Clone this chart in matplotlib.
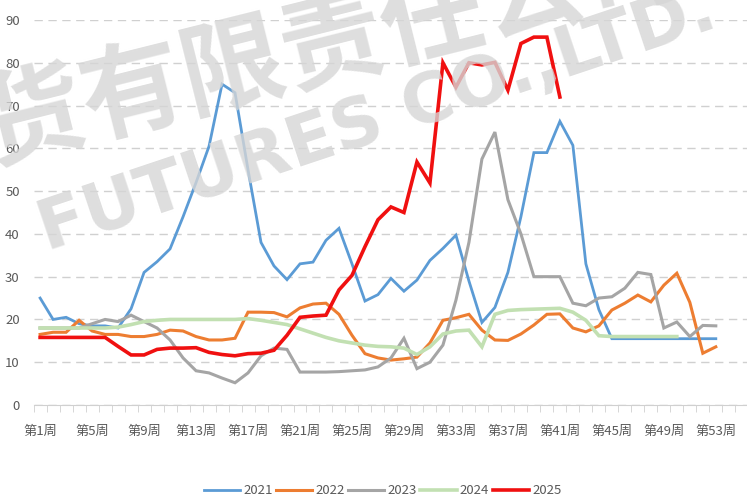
import numpy as np
import matplotlib
matplotlib.use("Agg")
import matplotlib.pyplot as plt
from matplotlib.ticker import FixedLocator

plt.rcParams['font.family'] = ['Noto Sans CJK SC', 'DejaVu Sans']

# weekly values
weeks = np.arange(1, 54)
series_2021 = [25, 20, 20.5, 19, 18.5, 18.5, 18, 22.5, 31, 33.5, 36.5, 44, 52, 60.5,
               75, 73, 55, 38, 32.5, 29.3, 33, 33.4, 38.5, 41.3, 33, 24.3, 25.8, 29.6,
               26.6, 29.2, 33.8, 36.6, 39.7, 29, 19.3, 22.8, 31, 44, 59, 59, 66.3, 60.7,
               33, 22.3, 15.5, 15.5, 15.5, 15.5, 15.5, 15.5, 15.5, 15.5, 15.5]
series_2022 = [16.5, 17, 17, 19.8, 17.3, 16.5, 16.5, 16, 16, 16.5, 17.5, 17.3, 16, 15.2,
               15.2, 15.6, 21.7, 21.7, 21.6, 20.6, 22.7, 23.6, 23.8, 21.2, 16.3, 12, 11,
               10.5, 10.8, 11.2, 14.5, 19.8, 20.4, 21.2, 17.5, 15.2, 15.1, 16.6, 18.7,
               21.2, 21.3, 18, 17.1, 18.5, 22.2, 23.8, 25.7, 24.1, 28, 30.8, 24, 12.1, 13.6]
series_2023 = [18, 18, 18, 18, 19, 20, 19.5, 21, 19.5, 18, 15.2, 11, 8, 7.5, 6.3, 5.2,
               7.5, 11.5, 13.3, 13, 7.7, 7.7, 7.7, 7.8, 8, 8.2, 8.9, 11, 15.6, 8.5, 10,
               14, 24.5, 38, 57.5, 63.8, 48, 40, 30, 30, 30, 23.8, 23.2, 25, 25.3, 27.3,
               31, 30.5, 18, 19.4, 16, 18.6, 18.5]
series_2024 = [18, 18, 18, 18, 18, 18, 18.2, 18.8, 19.5, 19.8, 20, 20, 20, 20, 20, 20,
               20.2, 19.8, 19.3, 18.8, 17.8, 16.8, 15.8, 15, 14.5, 14, 13.7, 13.6, 13.3,
               11.8, 13.6, 16.6, 17.3, 17.5, 13.6, 21.2, 22.1, 22.3, 22.4, 22.5, 22.6,
               21.7, 19.8, 16.2, 16, 16, 16, 16, 16, 16]
series_2025 = [15.8, 15.8, 15.8, 15.8, 15.8, 15.8, 13.7, 11.7, 11.7, 13, 13.3, 13.3, 13.4,
               12.3, 11.8, 11.5, 12, 12.1, 12.8, 16.3, 20.5, 20.8, 21, 26.9, 30.3, 37,
               43.3, 46.3, 45, 56.8, 51.9, 80, 74.3, 80, 79.5, 80.1, 73.6, 84.5, 86, 86, 72]

years = ['2021', '2022', '2023', '2024', '2025']
values = [series_2021, series_2022, series_2023, series_2024, series_2025]
colors = ['#5B9BD5', '#ED7D31', '#A5A5A5', '#C2E0B2', '#F01010']
widths = [2.0, 2.2, 2.2, 2.6, 2.6]

fig = plt.figure(figsize=(7.47, 5.0), dpi=100)
ax = fig.add_axes([0.045, 0.19, 0.955, 0.77])

# watermark
fig.text(0.38, 0.885, '期货有限责任公司', fontsize=74, fontweight='bold', color='#d6d6d6',
         rotation=14, ha='center', va='center', alpha=0.8, zorder=0)
fig.text(0.505, 0.76, 'FUTURES CO.,LTD.', fontsize=50, fontweight='bold', color='#d6d6d6',
         rotation=18.5, ha='center', va='center', alpha=0.8, zorder=0,
         family='DejaVu Sans')
ax.patch.set_alpha(0)

for yr, vals, c, lw in zip(years, values, colors, widths):
    ax.plot(weeks[:len(vals)], vals, color=c, linewidth=lw, label=yr,
            solid_joinstyle='miter')

ax.set_ylim(0, 90)
ax.set_xlim(0.5, 55.4)
ax.set_yticks(np.arange(0, 91, 10))
ax.yaxis.grid(True, linestyle=(0, (6, 4)), color='#d0d0d0', linewidth=1)
ax.set_axisbelow(True)

label_weeks = weeks[::4]
ax.set_xticks(label_weeks)
ax.set_xticklabels([f'第{w}周' for w in label_weeks])
ax.xaxis.set_minor_locator(FixedLocator(np.arange(0.5, 56, 1)))
ax.tick_params(axis='x', which='major', length=0, pad=14, labelsize=9.5, colors='#595959')
ax.tick_params(axis='x', which='minor', length=5, color='#d0d0d0')
ax.tick_params(axis='y', length=0, labelsize=9.5, colors='#595959', pad=10)

for side in ['top', 'right', 'left']:
    ax.spines[side].set_visible(False)
ax.spines['bottom'].set_color('#d0d0d0')

ax.legend(loc='upper center', bbox_to_anchor=(0.489, -0.175), ncol=5, frameon=False,
          fontsize=9.5, handlelength=2.75, handletextpad=0.25, columnspacing=0.25,
          labelcolor='#595959')

plt.savefig('out.png', dpi=100)
